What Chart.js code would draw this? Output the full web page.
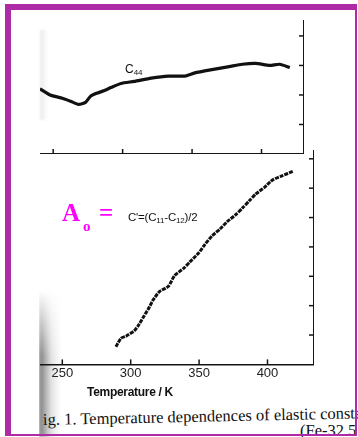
<!DOCTYPE html>
<html>
<head>
<meta charset="utf-8">
<script src="https://cdn.jsdelivr.net/npm/chart.js@4/dist/chart.umd.min.js"></script>
<style>
	html, body { margin:0; padding:0; width:358px; height:437px; overflow:hidden; background:#fff; }
	.box { position:absolute; }
	#frame { position:absolute; left:5px; top:4px; width:352px; height:432px; box-sizing:border-box;
		border-top:6px solid #ae2ba8; border-left:6px solid #ae2ba8; border-right:2px solid #ae2ba8; border-bottom:2px solid #ae2ba8; z-index:5; }
	#smudge { position:absolute; left:39px; top:290px; width:22px; height:147px;
		background:linear-gradient(to right, rgba(30,30,30,0.6), rgba(110,110,110,0.2) 55%, rgba(255,255,255,0));
		-webkit-mask-image:linear-gradient(to bottom, transparent, black 45%); mask-image:linear-gradient(to bottom, transparent, black 45%);
		filter:blur(1.5px); }
	#smudgeTop { position:absolute; left:40px; top:30px; width:8px; height:90px;
		background:linear-gradient(to right, rgba(140,140,140,0.18), rgba(255,255,255,0)); filter:blur(1px); }
	.txt { position:absolute; white-space:nowrap; }
</style>
</head>
<body>
<div id="smudgeTop"></div>
<div id="smudge"></div>
<div class="box" style="left:40px; top:20px; width:264px; height:134px;"><canvas id="upperChart"></canvas></div>
<div class="box" style="left:40px; top:150px; width:274px; height:232px;"><canvas id="lowerChart"></canvas></div>

<div class="txt" style="left:125px; top:62px; font:12px 'Liberation Sans'; color:#111;">C<span style="font-size:8px; position:relative; top:2px;">44</span></div>
<div class="txt" style="left:62px; top:199px; font:bold 25px 'Liberation Serif'; color:#ff00ff;">A</div>
<div class="txt" style="left:83px; top:218px; font:bold 15px 'Liberation Serif'; color:#ff00ff;">o</div>
<div class="txt" style="left:99px; top:199px; font:bold 25px 'Liberation Serif'; color:#ff00ff;">=</div>
<div class="txt" style="left:128px; top:211px; font:11.5px 'Liberation Sans'; color:#111; letter-spacing:-0.2px;">C'=(C<span style="font-size:8px; position:relative; top:2px;">11</span>-C<span style="font-size:8px; position:relative; top:2px;">12</span>)/2</div>
<div class="txt" style="left:87px; top:385px; font:bold 12px 'Liberation Sans'; color:#111; letter-spacing:-0.3px;">Temperature / K</div>
<div class="txt" style="left:43px; top:410px; font:16.5px 'Liberation Serif'; color:#111; transform:rotate(-1.2deg); transform-origin:left center;">ig. 1. Temperature dependences of elastic constants</div>
<div class="txt" style="left:300px; top:421px; font:16.5px 'Liberation Serif'; color:#111;">(Fe-32.5</div>
<div id="frame"></div>

<script>
	// 온도 (K) 축 값
	const tempTicks = [250, 300, 350, 400];

	// 위쪽 패널 : C44
	const upperTemps = [240.5, 247.8, 256.6, 262.4, 268.2, 273.3, 276.9, 282.0, 286.4, 291.5, 298.8, 308.3, 320.6, 333.0, 344.7, 352.0, 364.3, 376.7, 386.2, 395.7, 405.9, 413.1, 420.4];
	const c44Values = [2.21, 2.00, 1.89, 1.79, 1.68, 1.75, 1.96, 2.07, 2.14, 2.25, 2.39, 2.46, 2.57, 2.64, 2.64, 2.75, 2.86, 2.96, 3.04, 3.07, 3.00, 3.04, 2.93];
	const upperLevelTicks = [1, 2, 3, 4];

	// 아래쪽 패널 : C' = (C11 - C12) / 2
	const lowerTemps = [289.2, 292.9, 296.6, 302.5, 305.4, 309.1, 312.8, 316.5, 321.0, 327.6, 332.0, 338.7, 343.1, 349.8, 354.2, 359.4, 365.3, 370.5, 376.4, 381.6, 386.7, 391.2, 397.8, 403.7, 411.1, 418.5];
	const cPrimeValues = [0.60, 0.89, 0.96, 1.14, 1.31, 1.60, 1.88, 2.20, 2.48, 2.66, 3.02, 3.27, 3.48, 3.80, 4.08, 4.37, 4.61, 4.86, 5.08, 5.32, 5.57, 5.79, 6.03, 6.28, 6.43, 6.57];
	const lowerLevelTicks = [1, 2, 3, 4, 5, 6, 7];

	// 안쪽으로 향하는 눈금
	const innerTicks = {
		id: 'innerTicks',
		afterDraw(chart, args, opts) {
			const ctx = chart.ctx;
			const area = chart.chartArea;
			const xs = chart.scales.x;
			const ys = chart.scales.y;
			ctx.save();
			ctx.strokeStyle = '#151515';
			ctx.lineWidth = 1.5;
			xs.ticks.forEach(function(t){
				const px = xs.getPixelForValue(t.value);
				ctx.beginPath();
				ctx.moveTo(px, area.bottom);
				ctx.lineTo(px, area.bottom - opts.len);
				ctx.stroke();
			});
			ys.ticks.forEach(function(t){
				const py = ys.getPixelForValue(t.value);
				ctx.beginPath();
				ctx.moveTo(area.right, py);
				ctx.lineTo(area.right - opts.len, py);
				ctx.stroke();
			});
			ctx.restore();
		}
	};

	function makePanel(id, temps, values, xMin, xMax, yMax, yTicks, showLabels, width, dash) {
		const ctx = document.getElementById(id).getContext('2d');
		return new Chart(ctx, {
			type: 'line',
			data: {
				datasets: [{
					data: temps.map((t, i) => ({x: t, y: values[i]})),
					borderColor: '#111',
					borderWidth: width,
					borderDash: dash,
					pointRadius: 0,
					tension: 0.2,
					fill: false
				}]
			},
			options: {
				responsive: true,
				maintainAspectRatio: false,
				animation: false,
				layout: { padding: 0 },
				plugins: {
					legend: { display: false },
					tooltip: { enabled: false },
					innerTicks: { len: 5 }
				},
				scales: {
					x: {
						type: 'linear',
						min: xMin,
						max: xMax,
						afterBuildTicks: function(scale){ scale.ticks = tempTicks.map(v => ({value: v})); },
						grid: { display: true, drawOnChartArea: false, drawTicks: false },
						border: { display: true, color: '#151515', width: 1.5 },
						ticks: {
							display: showLabels,
							padding: 1,
							color: '#222',
							font: { family: 'Liberation Sans', size: 13 },
							maxRotation: 0
						}
					},
					y: {
						type: 'linear',
						position: 'right',
						min: 0,
						max: yMax,
						afterBuildTicks: function(scale){ scale.ticks = yTicks.map(v => ({value: v})); },
						grid: { display: true, drawOnChartArea: false, drawTicks: false },
						border: { display: true, color: '#151515', width: 1.5 },
						ticks: { display: false }
					}
				}
			},
			plugins: [innerTicks]
		});
	}

	makePanel('upperChart', upperTemps, c44Values, 240.5, 430.6, 4.54, upperLevelTicks, false, 3.2, []);
	makePanel('lowerChart', lowerTemps, cPrimeValues, 233.7, 434, 7.3, lowerLevelTicks, true, 3, [4, 1]);
</script>
</body>
</html>
